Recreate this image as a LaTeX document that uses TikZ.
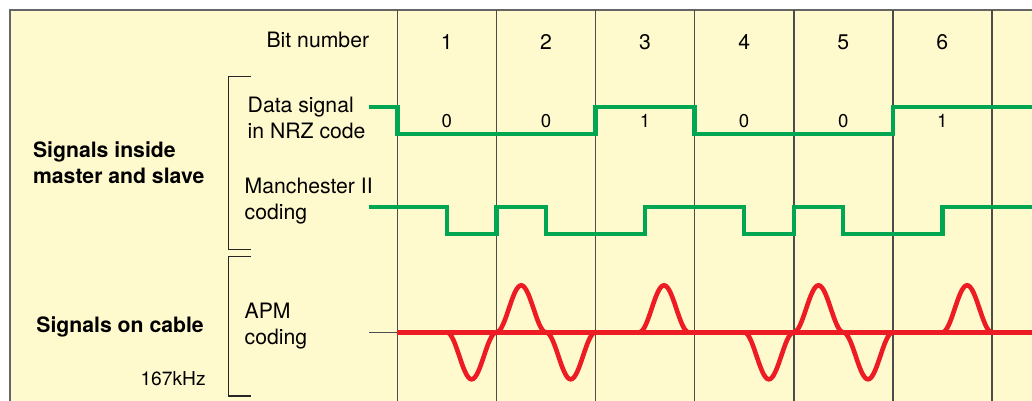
\documentclass[tikz,border=0pt]{standalone}
\usepackage{fontspec}
\setmainfont{TeX Gyre Heros}
\definecolor{paper}{RGB}{255,250,205}
\definecolor{siggreen}{RGB}{0,166,81}
\definecolor{apmred}{RGB}{237,28,36}
\begin{document}
\begin{tikzpicture}[x=0.5pt,y=-0.5pt,
  sig/.style={line width=2.2pt,siggreen},
  apm/.style={line width=2.3pt,apmred},
  cellline/.style={line width=0.8pt,black!70},
  bracket/.style={line width=0.6pt,black!85},
  txt/.style={inner sep=0pt,font=\fontsize{10.6}{12.8}\selectfont},
  txtb/.style={inner sep=0pt,font=\fontsize{10.6}{12.8}\selectfont\bfseries}]
  \useasboundingbox (0,0) rectangle (1032,401);
  \fill[paper] (10,10) rectangle (1032,401);
  \draw[line width=1pt,black!60] (10,401) -- (10,10) -- (1032,10);
  \foreach \i in {0,...,6}
    \draw[cellline] ({397.3+99.1*\i},10) -- ({397.3+99.1*\i},401);
  \draw[line width=0.6pt,black!70] (369,332.3) -- (1032,332.3);
  % brackets
  \draw[bracket] (250.7,76.3) -| (228.7,249.3) -- (250.7,249.3);
  \draw[bracket] (250.7,256.7) -| (228.7,396) -- (250.7,396);
  % labels
  \node[txt,anchor=base east] (bitno) at (369.5,47.7) {Bit number};
  \foreach \i in {1,...,6}
    \node[txt,anchor=base] (n\i) at ({397.3+99.1*(\i-0.5)},49.3) {\i};
  \foreach \v [count=\i] in {0,0,1,0,0,1}
    \node[txt,font=\fontsize{9.3}{11}\selectfont,anchor=base] (v\i) at ({397.3+99.1*(\i-0.5)},127) {\v};
  \node[txt,align=left,anchor=north west] (nrz) at (247.3,96.7) {Data signal\\in NRZ code};
  \node[txt,align=left,anchor=north west] (manch) at (244.3,178) {Manchester II\\coding};
  \node[txt,align=left,anchor=north west] (apmcode) at (244.3,302.7) {APM\\coding};
  \node[txtb,align=left,anchor=north west] (inside) at (32.7,141.7) {Signals inside\\master and slave};
  \node[txtb,anchor=base west] (cable) at (36,332.7) {Signals on cable};
  \node[txt,font=\fontsize{9.6}{11}\selectfont,anchor=base east] (freq) at (206,385) {167kHz};
  % signals
  \draw[sig] (369,107) -| (397.3,134) -| (595.5,107) -| (694.6,134) -| (892.8,107) -- (1032,107);
  \draw[sig] (369,206.7) -| (446.85,234) -| (496.4,206.7) -| (545.95,234) -| (645.05,206.7)
    -| (744.15,234) -| (793.7,206.7) -| (843.25,234) -| (942.35,206.7) -- (1032,206.7);
  \draw[apm] (397.3,332.3) -- (1032,332.3);
  \foreach \c/\a in {471.6/-47,521.2/47,570.7/-47,664/47,768.9/-47,818.5/47,868/-47,967.1/47}
    \draw[apm] plot[domain=-24.8:24.8,samples=31,smooth] ({\c+\x},{332.3-(\a)*cos(90*\x/24.8)^2});
\end{tikzpicture}
\end{document}
